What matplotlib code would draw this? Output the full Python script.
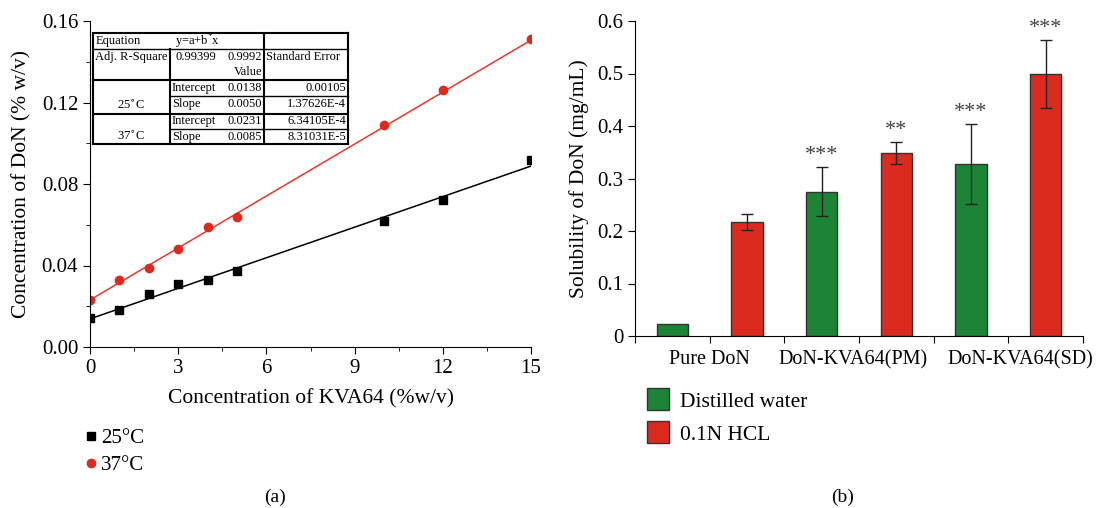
import matplotlib.pyplot as plt
from matplotlib.lines import Line2D
import matplotlib.transforms as mtransforms
import numpy as np

plt.rcParams['font.family'] = ['Liberation Serif', 'DejaVu Serif']

# Panel (a) data
kva = [0, 1, 2, 3, 4, 5, 10, 12, 15]
don_25 = [0.014, 0.018, 0.026, 0.031, 0.033, 0.0375, 0.062, 0.072, 0.092]
don_37 = [0.023, 0.033, 0.039, 0.048, 0.059, 0.064, 0.109, 0.126, 0.151]
fit_25 = (0.0138, 0.0050)
fit_37 = (0.0231, 0.0085)

# Panel (b) data
groups = ['Pure DoN', 'DoN-KVA64(PM)', 'DoN-KVA64(SD)']
water = [0.022, 0.275, 0.328]
water_err = [0.0, 0.047, 0.076]
hcl = [0.217, 0.348, 0.499]
hcl_err = [0.015, 0.021, 0.065]
water_stars = ['', '***', '***']
hcl_stars = ['', '**', '***']

green = '#1b8436'
red = '#dc2b1e'

fig = plt.figure(figsize=(10.97, 5.08), dpi=100)
W, H = 1097, 508


def fx(px):
    return px / W


def fy(py):
    return 1 - py / H


# ---------- panel (a) ----------
ax1 = fig.add_axes([fx(90), fy(347), fx(531) - fx(90), fy(21) - fy(347)])
xx = np.array([0, 15])
ax1.plot(xx, fit_25[0] + fit_25[1] * xx, color='black', lw=1.1)
ax1.plot(xx, fit_37[0] + fit_37[1] * xx, color='#e8382a', lw=1.1)
ax1.plot(kva, don_25, 's', color='black', ms=6, label='25°C')
ax1.plot(kva, don_37, 'o', color=red, ms=6, label='37°C')
ax1.set_xlim(0, 15)
ax1.set_ylim(0, 0.16)
ax1.set_xticks([0, 3, 6, 9, 12, 15])
ax1.set_xticks(np.arange(0, 15.1, 1.5), minor=True)
ax1.set_yticks([0, 0.04, 0.08, 0.12, 0.16])
ax1.set_yticks(np.arange(0, 0.161, 0.02), minor=True)
ax1.set_yticklabels(['0.00', '0.04', '0.08', '0.12', '0.16'])
for s in ['top', 'right']:
    ax1.spines[s].set_visible(False)
ax1.tick_params(which='major', direction='out', length=5, labelsize=15)
ax1.tick_params(which='minor', direction='out', length=3)
ax1.set_xlabel('Concentration of KVA64 (%w/v)', fontsize=15.5, labelpad=8)
ax1.set_ylabel('Concentration of DoN (% w/v)', fontsize=15.5, labelpad=7)
fig.legend(handles=ax1.get_legend_handles_labels()[0], loc='upper left',
           bbox_to_anchor=(fx(66), fy(410)), frameon=False, fontsize=15,
           handlelength=0.6, handletextpad=0.2, labelspacing=0.35)
fig.text(fx(275), fy(497), '(a)', fontsize=14, ha='center', va='center')

# fit table drawn on the figure
tl, c1, c2, tr = 93, 170, 264, 348
rows = [33, 49, 80, 96, 114, 129, 144]


def hline(py, x0, x1, lw=1.0):
    fig.add_artist(Line2D([fx(x0), fx(x1)], [fy(py), fy(py)], color='black', lw=lw))


def vline(px, y0, y1, lw=1.0):
    fig.add_artist(Line2D([fx(px), fx(px)], [fy(y0), fy(y1)], color='black', lw=lw))


fig.add_artist(plt.Rectangle((fx(tl), fy(rows[-1])), fx(tr) - fx(tl), fy(rows[0]) - fy(rows[-1]),
                             transform=fig.transFigure, facecolor='white', edgecolor='none'))
hline(33, tl, tr, 1.5)
hline(49, tl, tr)
hline(80, tl, tr, 1.5)
hline(96, c1, tr)
hline(114, tl, tr, 1.5)
hline(129, c1, tr)
hline(144, tl, tr, 1.5)
vline(tl, 33, 144, 1.5)
vline(tr, 33, 144, 1.5)
vline(c2, 33, 144, 1.5)
vline(c1, 49, 144, 1.5)

tfs = 9.0


def cell(px, py, s, ha='left'):
    fig.text(fx(px), fy(py), s, fontsize=tfs, ha=ha, va='center')


cell(96, 41, 'Equation')
cell(175, 41, 'y=a+b$^{*}$x')
cell(95, 57, 'Adj. R-Square')
cell(175, 57, '0.99399')
cell(262, 57, '0.9992', ha='right')
cell(262, 72, 'Value', ha='right')
cell(266, 57, 'Standard Error')
cell((tl + c1) / 2, 105, '25$^{\\circ}$C', ha='center')
cell((tl + c1) / 2, 136, '37$^{\\circ}$C', ha='center')
table_rows = [(88, 'Intercept', '0.0138', '0.00105'),
              (104, 'Slope', '0.0050', '1.37626E-4'),
              (121, 'Intercept', '0.0231', '6.34105E-4'),
              (137, 'Slope', '0.0085', '8.31031E-5')]
for py, name, val, err in table_rows:
    cell(172, py, name)
    cell(262, py, val, ha='right')
    cell(346, py, err, ha='right')

# ---------- panel (b) ----------
ax2 = fig.add_axes([fx(635), fy(336), fx(1083) - fx(635), fy(21) - fy(336)])
xg = np.arange(len(groups)) * 2
xh = xg + 1
bw = 0.42
ekw = dict(ecolor='#222222', elinewidth=1.0, capsize=4, capthick=1.0)
ax2.bar(xg, water, bw, color=green, edgecolor='#333333', lw=1.0, label='Distilled water')
ax2.errorbar(xg[1:], water[1:], yerr=water_err[1:], fmt='none', **ekw)
ax2.bar(xh, hcl, bw, yerr=hcl_err, color=red, edgecolor='#333333', lw=1.0,
        error_kw=ekw, label='0.1N HCL')
for x, v, e, s in zip(xg, water, water_err, water_stars):
    if s:
        ax2.text(x, v + e + 0.004, s, ha='center', va='bottom', fontsize=16, color='#444444')
for x, v, e, s in zip(xh, hcl, hcl_err, hcl_stars):
    if s:
        ax2.text(x, v + e + 0.004, s, ha='center', va='bottom', fontsize=16, color='#444444')
ax2.set_xlim(-0.5, 5.5)
ax2.set_ylim(0, 0.6)
ax2.set_xticks(np.arange(-0.5, 5.6, 1))
ax2.set_xticklabels(['', groups[0], '', groups[1], '', groups[2], ''])
ax2.set_yticks([0, 0.1, 0.2, 0.3, 0.4, 0.5, 0.6])
ax2.set_yticklabels(['0', '0.1', '0.2', '0.3', '0.4', '0.5', '0.6'])
for s in ['top', 'right']:
    ax2.spines[s].set_visible(False)
ax2.tick_params(axis='y', direction='out', length=5, labelsize=15)
ax2.tick_params(axis='x', direction='out', length=5, labelsize=14.5, pad=5)
# nudge the group labels apart a little, as in the original
shifts = [0, 0, 0, -6, 0, 12, 0]
for lab, dx in zip(ax2.get_xticklabels(), shifts):
    lab.set_transform(lab.get_transform() +
                      mtransforms.ScaledTranslation(dx / 100, 0, fig.dpi_scale_trans))
ax2.set_ylabel('Solubility of DoN (mg/mL)', fontsize=15.5, labelpad=6)
fig.legend(handles=ax2.get_legend_handles_labels()[0][:2], loc='upper left',
           bbox_to_anchor=(fx(628), fy(369)), frameon=False, fontsize=15.5,
           handlelength=1.0, handleheight=1.2, handletextpad=0.5, labelspacing=0.45)
fig.text(fx(843), fy(497), '(b)', fontsize=14, ha='center', va='center')

fig.savefig('out.png', dpi=100)
